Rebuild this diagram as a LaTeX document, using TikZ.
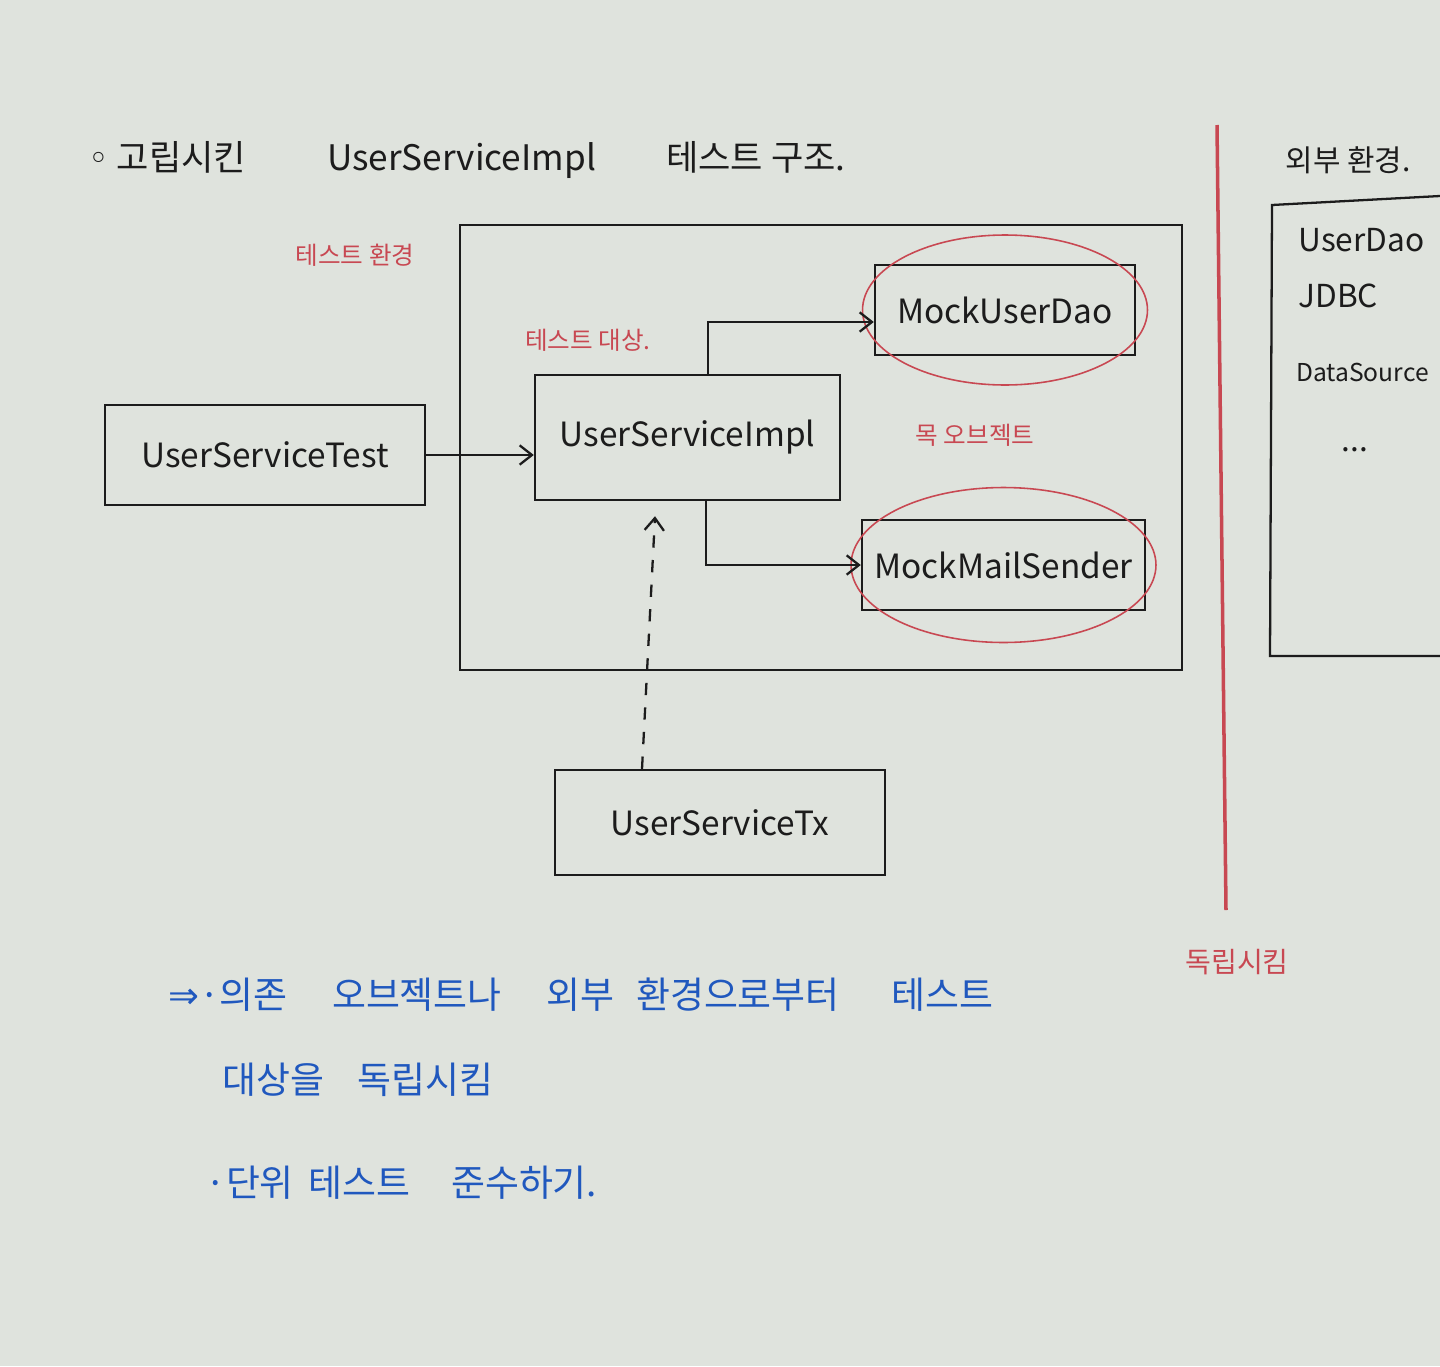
\documentclass[tikz,border=0pt]{standalone}
\usepackage{fontspec}
\setmainfont{Noto Sans CJK KR}
\newfontfamily\symfont{DejaVu Sans}
\usetikzlibrary{arrows.meta,calc}
\definecolor{board}{RGB}{223,227,221}
\definecolor{ink}{RGB}{28,28,28}
\definecolor{redink}{RGB}{200,72,82}
\definecolor{blueink}{RGB}{32,88,190}
\tikzset{
  box/.style={draw=ink, line width=1.4pt, inner sep=0pt, font=\fontsize{19}{21}\selectfont, text=ink},
  redlbl/.style={text=redink, font=\fontsize{14}{16}\selectfont, inner sep=0pt},
  bluelbl/.style={text=blueink, font=\fontsize{21}{24}\selectfont, inner sep=0pt, anchor=west},
  blklbl/.style={text=ink, inner sep=0pt},
  conn/.style={draw=ink, line width=1.3pt, -{Straight Barb[length=7pt,width=11pt]}},
}
\begin{document}
\begin{tikzpicture}[x=0.02cm,y=-0.02cm]
\useasboundingbox[fill=board] (0,0) rectangle (1440,1366);
% title
\node[blklbl, anchor=west, font=\fontsize{20}{24}\selectfont] (title) at (88,160) {{\symfont ◦} 고립시킨\hspace{2.3em}UserServiceImpl\hspace{2.0em}테스트 구조.};
% test environment
\node[redlbl] (envlbl) at (355,255) {테스트 환경};
\node[draw=ink, line width=1.4pt, minimum width=14.44cm, minimum height=8.9cm] (env) at (821,447.5) {};
\node[redlbl] (tgtlbl) at (588,340) {테스트 대상.};
% nodes
\node[box, minimum width=6.4cm, minimum height=2cm] (ust) at (265,455) {UserServiceTest};
\node[box, minimum width=6.1cm, minimum height=2.5cm] (usi) at (687.5,437.5) {UserServiceImpl};
\node[box, minimum width=5.2cm, minimum height=1.8cm] (mud) at (1005,310) {MockUserDao};
\node[box, minimum width=5.66cm, minimum height=1.8cm] (mms) at (1003.5,565) {MockMailSender};
\node[box, minimum width=6.6cm, minimum height=2.1cm] (ustx) at (720,822.5) {UserServiceTx};
% mock ellipses
\draw[redink, line width=0.9pt] (mud.center) ellipse [x radius=2.85cm, y radius=1.5cm];
\draw[redink, line width=0.9pt] (mms.center) ellipse [x radius=3.05cm, y radius=1.55cm];
\node[redlbl] (mocklbl) at (975,435) {목 오브젝트};
% connectors
\draw[conn] (ust.east) -- (ust.east -| usi.west);
\draw[conn] ([xshift=0.41cm]usi.north) |- ([yshift=-0.24cm]mud.west);
\draw[conn] ([xshift=0.37cm]usi.south) |- (mms.west);
\draw[conn, dashed, dash pattern=on 7pt off 7pt] ([xshift=-1.56cm]ustx.north) -- ([xshift=-0.65cm,yshift=-0.3cm]usi.south);
% isolation divider
\draw[redink, line width=2pt] (1217,125) -- (1226,910);
\node[redlbl, font=\fontsize{16}{18}\selectfont] (isolbl) at (1237,962) {독립시킴};
% external environment
\node[blklbl, font=\fontsize{17}{20}\selectfont] (extlbl) at (1348,160) {외부 환경.};
\draw[ink, line width=1.3pt] (1440,196) -- (1272,205) -- (1270,656) -- (1440,656);
\node[blklbl, anchor=west, font=\fontsize{18}{21}\selectfont] (ext1) at (1298,240) {UserDao};
\node[blklbl, anchor=west, font=\fontsize{18}{21}\selectfont] (ext2) at (1298,296) {JDBC};
\node[blklbl, anchor=west, font=\fontsize{14}{17}\selectfont] (ext3) at (1296,372) {DataSource};
\node[blklbl, font=\fontsize{18}{21}\selectfont] (ext4) at (1355,450) {...};
% conclusion
\node[bluelbl] (c1) at (168,995) {{\symfont ⇒}·의존\hspace{1.2em}오브젝트나\hspace{1.2em}외부\hspace{0.6em}환경으로부터\hspace{1.4em}테스트};
\node[bluelbl] (c2) at (222,1080) {대상을\hspace{0.9em}독립시킴};
\node[bluelbl] (c3) at (205,1183) {·단위\hspace{0.4em}테스트\hspace{1.1em}준수하기.};
\end{tikzpicture}
\end{document}
